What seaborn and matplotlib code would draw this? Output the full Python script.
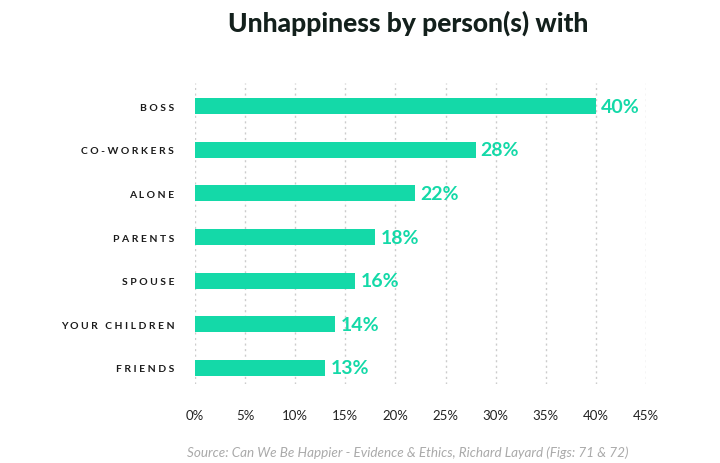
import numpy as np
import pandas as pd
import matplotlib
matplotlib.use("Agg")
import matplotlib.pyplot as plt
import seaborn as sns

# ===================== Daten =====================
categories = ["BOSS", "CO-WORKERS", "ALONE", "PARENTS", "SPOUSE", "YOUR CHILDREN", "FRIENDS"]
values = [40, 28, 22, 18, 16, 14, 13]
xticks = [0, 5, 10, 15, 20, 25, 30, 35, 40, 45]

df = pd.DataFrame({"who": categories, "pct": values})

green = "#14d9a8"
dark = "#13201c"

sns.set_theme(style="white")
plt.rcParams["font.family"] = ["Lato", "DejaVu Sans"]

fig = plt.figure(figsize=(7.2, 4.64), dpi=100)
ax = fig.add_axes([0.271, 0.170, 0.626, 0.649])

sns.barplot(data=df, x="pct", y="who", color=green, width=0.37,
            saturation=1, edgecolor="none", ax=ax, zorder=3)

for i, v in enumerate(values):
    ax.text(v + 0.5, i, f"{v}%", va="center", ha="left", color=green,
            fontsize=14, fontweight="bold", zorder=4)

ax.set_xlim(0, 45)
ax.set_ylim(6.37, -0.53)
ax.set_xticks(xticks)
ax.set_xticklabels([f"{t}%" for t in xticks], fontsize=9.5, color="#222222")
ax.tick_params(axis="x", length=0, pad=18)

# gesperrte Schrift fuer die Kategorien
spaced = [" ".join(list(c)) for c in categories]
ax.set_yticks(range(len(categories)))
ax.set_yticklabels(spaced, fontsize=7.5, color="#1a1a1a", fontweight="bold")
ax.tick_params(axis="y", length=0, pad=15)

for t in xticks:
    ax.axvline(t, color="#cccccc", lw=1, ls=(0, (1.5, 2.5)), zorder=1)

for s in ax.spines.values():
    s.set_visible(False)
ax.set_xlabel("")
ax.set_ylabel("")
ax.grid(False)

fig.text(0.567, 0.950, "Unhappiness by person(s) with", ha="center", va="center",
         fontsize=19, fontweight="black", color=dark)
fig.text(0.567, 0.024, "Source: Can We Be Happier - Evidence & Ethics, Richard Layard (Figs: 71 & 72)",
         ha="center", va="center", fontsize=9.7, style="italic", color="#aaaaaa")

fig.savefig("out.png", dpi=100)
